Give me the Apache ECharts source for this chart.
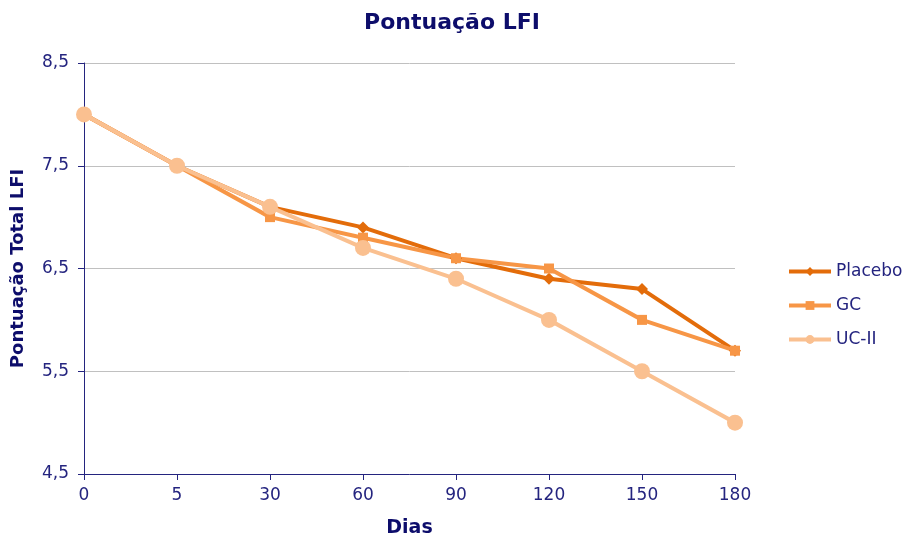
<!DOCTYPE html>
<html>
<head>
<meta charset="utf-8">
<script src="https://cdn.jsdelivr.net/npm/echarts@6/dist/echarts.min.js"></script>
<style>
  html, body { margin: 0; padding: 0; background: #fff; }
  #chart { width: 904px; height: 537px; }
</style>
</head>
<body>
<div id="chart"></div>
<script>
// dados
var dias = ['0', '5', '30', '60', '90', '120', '150', '180'];
var placebo = [8.0, 7.5, 7.1, 6.9, 6.6, 6.4, 6.3, 5.7];
var gc = [8.0, 7.5, 7.0, 6.8, 6.6, 6.5, 6.0, 5.7];
var ucII = [8.0, 7.5, 7.1, 6.7, 6.4, 6.0, 5.5, 5.0];

var navy = '#24247f';
var escuro = '#0d0d6b';
var fonte = '"DejaVu Sans", Verdana, sans-serif';

var myChart = echarts.init(document.getElementById('chart'));
var option = {
  backgroundColor: '#fff',
  animation: false,
  title: {
    text: 'Pontuação LFI',
    left: 'center',
    top: 7,
    textStyle: { color: escuro, fontFamily: fonte, fontSize: 22, fontWeight: 'bold' }
  },
  legend: {
    orient: 'vertical',
    left: 782,
    top: 258,
    itemGap: 17,
    itemWidth: 42,
    itemHeight: 11,
    lineStyle: { width: 4 },
    textStyle: { color: navy, fontFamily: fonte, fontSize: 17 },
    data: ['Placebo', 'GC', 'UC-II']
  },
  grid: { left: 84, right: 169, top: 63, bottom: 63, outerBoundsMode: 'none', containLabel: false },
  xAxis: {
    type: 'category',
    data: dias,
    boundaryGap: false,
    name: 'Dias',
    nameLocation: 'middle',
    nameGap: 45,
    nameTextStyle: { color: escuro, fontFamily: fonte, fontSize: 19, fontWeight: 'bold' },
    axisLine: { lineStyle: { color: navy, width: 1 } },
    axisTick: { show: true, alignWithLabel: true, length: 6, lineStyle: { color: navy } },
    axisLabel: { color: navy, fontFamily: fonte, fontSize: 17, margin: 13 },
    splitLine: { show: false }
  },
  yAxis: {
    type: 'value',
    min: 4.5,
    max: 8.5,
    interval: 1,
    name: 'Pontuação Total LFI',
    nameLocation: 'middle',
    nameGap: 57,
    nameTextStyle: { color: escuro, fontFamily: fonte, fontSize: 18, fontWeight: 'bold' },
    axisLine: { show: true, lineStyle: { color: navy, width: 1 } },
    axisTick: { show: true, length: 6, lineStyle: { color: navy } },
    axisLabel: {
      color: navy, fontFamily: fonte, fontSize: 17, margin: 15,
      formatter: function (v) { return v.toFixed(1).replace('.', ','); }
    },
    splitLine: { show: true, lineStyle: { color: '#c0c0c0', width: 1 } }
  },
  series: [
    {
      name: 'Placebo',
      type: 'line',
      data: placebo,
      symbol: 'diamond',
      symbolSize: 12,
      color: '#e36c0a',
      lineStyle: { width: 4 }
    },
    {
      name: 'GC',
      type: 'line',
      data: gc,
      symbol: 'rect',
      symbolSize: 10,
      color: '#f79646',
      lineStyle: { width: 4 }
    },
    {
      name: 'UC-II',
      type: 'line',
      data: ucII,
      symbol: 'circle',
      symbolSize: 16,
      color: '#fac090',
      lineStyle: { width: 4 }
    }
  ]
};
myChart.setOption(option);
</script>
</body>
</html>
